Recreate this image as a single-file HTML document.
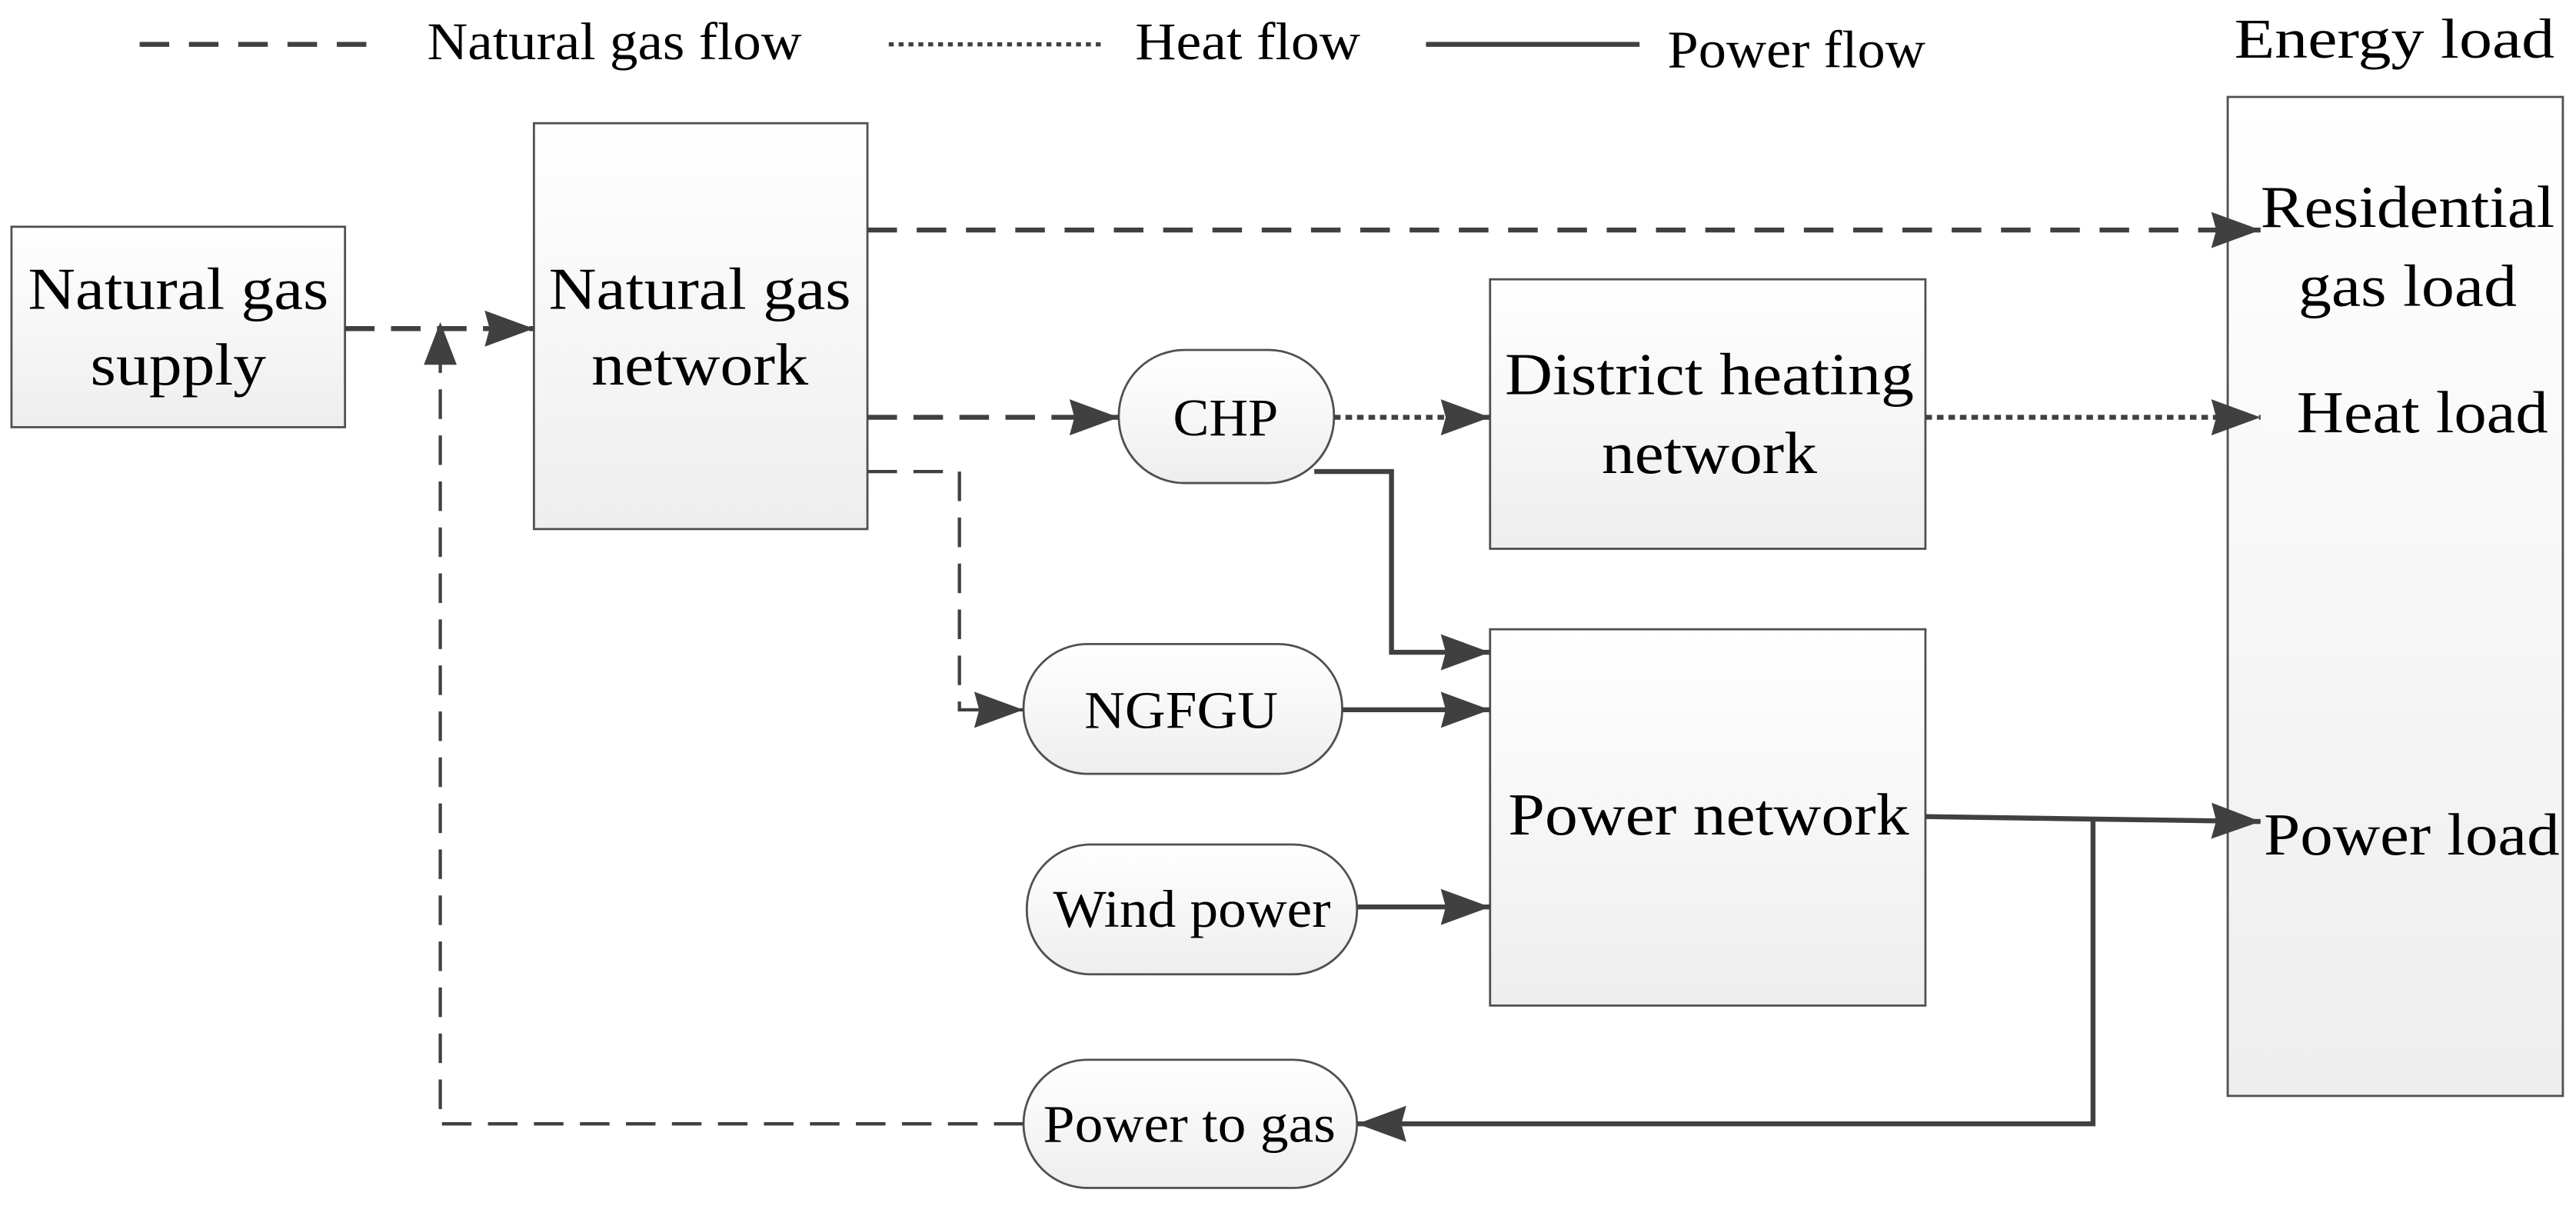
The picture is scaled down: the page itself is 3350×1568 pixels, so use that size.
<!DOCTYPE html>
<html><head><meta charset="utf-8"><style>html,body{margin:0;padding:0;background:#fff;}svg{display:block}</style></head>
<body>
<svg width="3350" height="1568" viewBox="0 0 1568 734" preserveAspectRatio="none" xmlns="http://www.w3.org/2000/svg" font-family="Liberation Serif, serif">
<defs>
<linearGradient id="g" x1="0" y1="0" x2="0" y2="1"><stop offset="0" stop-color="#ffffff"/><stop offset="1" stop-color="#eeeeee"/></linearGradient>
<marker id="A" markerWidth="30" markerHeight="22" refX="30" refY="11" orient="auto" markerUnits="userSpaceOnUse"><path d="M0,0 L30,11 L0,22 L3,11 Z" fill="#404040"/></marker>
</defs>
<g fill="url(#g)" stroke="#505050" stroke-width="1.3">
<rect x="1356" y="59" width="204" height="608"/>
<rect x="7" y="138" width="203" height="122"/>
<rect x="325" y="75" width="203" height="247"/>
<rect x="907" y="170" width="265" height="164"/>
<rect x="907" y="383" width="265" height="229"/>
<rect x="681" y="213" width="131" height="81" rx="40"/>
<rect x="623" y="392" width="194" height="79" rx="39"/>
<rect x="625" y="514" width="201" height="79" rx="39"/>
<rect x="623" y="645" width="203" height="78" rx="39"/>
</g>
<g stroke="#404040" stroke-width="3" fill="none">
<line x1="85" y1="27" x2="235" y2="27" stroke-dasharray="18,12"/>
<line x1="541" y1="27" x2="672" y2="27" stroke-dasharray="3,3" stroke-width="2.5"/>
<line x1="868" y1="27" x2="998" y2="27"/>
<line x1="210" y1="200" x2="325" y2="200" stroke-dasharray="18,10" marker-end="url(#A)"/>
<polyline points="623,684 268,684 268,200" stroke-dasharray="18,10" stroke-width="2"/>
<path d="M258,222 L268,196 L278,222 Z" fill="#404040" stroke="none"/>
<line x1="528" y1="140" x2="1376" y2="140" stroke-dasharray="18,12" marker-end="url(#A)"/>
<line x1="528" y1="254" x2="681" y2="254" stroke-dasharray="18,10" marker-end="url(#A)"/>
<polyline points="528,287 584,287 584,432 623,432" stroke-dasharray="18,10" stroke-width="2" marker-end="url(#A)"/>
<line x1="812" y1="254" x2="907" y2="254" stroke-dasharray="4,3" marker-end="url(#A)"/>
<line x1="1172" y1="254" x2="1376" y2="254" stroke-dasharray="4,3" marker-end="url(#A)"/>
<polyline points="800,287 847,287 847,397 907,397" marker-end="url(#A)"/>
<line x1="817" y1="432" x2="907" y2="432" marker-end="url(#A)"/>
<line x1="826" y1="552" x2="907" y2="552" marker-end="url(#A)"/>
<polyline points="1172,497 1376,500" marker-end="url(#A)"/>
<polyline points="1274,498 1274,684 826,684" marker-end="url(#A)"/>
</g>
<g fill="#000" font-size="32" lengthAdjust="spacingAndGlyphs">
<text x="260" y="36" textLength="228" lengthAdjust="spacingAndGlyphs">Natural gas flow</text>
<text x="691" y="36" textLength="137" lengthAdjust="spacingAndGlyphs">Heat flow</text>
<text x="1015" y="41" textLength="157" lengthAdjust="spacingAndGlyphs">Power flow</text>
<text x="1360" y="35" font-size="34" textLength="195" lengthAdjust="spacingAndGlyphs">Energy load</text>
</g>
<g fill="#000" font-size="36">
<text x="17" y="188" textLength="183" lengthAdjust="spacingAndGlyphs">Natural gas</text>
<text x="55" y="234" textLength="107" lengthAdjust="spacingAndGlyphs">supply</text>
<text x="334" y="188" textLength="184" lengthAdjust="spacingAndGlyphs">Natural gas</text>
<text x="360" y="234" textLength="132" lengthAdjust="spacingAndGlyphs">network</text>
<text x="916" y="240" textLength="249" lengthAdjust="spacingAndGlyphs">District heating</text>
<text x="975" y="288" textLength="131" lengthAdjust="spacingAndGlyphs">network</text>
<text x="918" y="508" textLength="244" lengthAdjust="spacingAndGlyphs">Power network</text>
<text x="1376" y="138" textLength="179" lengthAdjust="spacingAndGlyphs">Residential</text>
<text x="1399" y="186" textLength="133" lengthAdjust="spacingAndGlyphs">gas load</text>
<text x="1398" y="263" textLength="153" lengthAdjust="spacingAndGlyphs">Heat load</text>
<text x="1378" y="520" textLength="180" lengthAdjust="spacingAndGlyphs">Power load</text>
</g>
<g fill="#000" font-size="32">
<text x="714" y="265" textLength="64" lengthAdjust="spacingAndGlyphs">CHP</text>
<text x="660" y="443" textLength="118" lengthAdjust="spacingAndGlyphs">NGFGU</text>
<text x="641" y="564" textLength="169" lengthAdjust="spacingAndGlyphs">Wind power</text>
<text x="635" y="695" textLength="178" lengthAdjust="spacingAndGlyphs">Power to gas</text>
</g>
</svg>
</body></html>
